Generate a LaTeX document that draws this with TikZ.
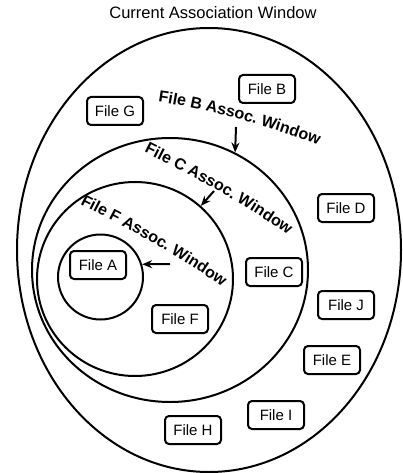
\documentclass[tikz,border=0pt]{standalone}
\usepackage{fontspec}
\setmainfont{Liberation Sans}
\usetikzlibrary{arrows.meta,shapes.geometric,decorations.text}

\newcommand{\boxfont}{\fontsize{15}{18}\selectfont}
\newcommand{\arcfont}{\fontsize{16}{19}\selectfont\bfseries}

\tikzset{
  filebox/.style={draw, line width=2pt, rounded corners=4pt, minimum width=56pt,
    minimum height=28pt, inner sep=0pt, font=\boxfont},
  window/.style={draw, ellipse, line width=2pt, inner sep=0pt},
  pointer/.style={-{Stealth[length=10pt,width=8pt]}, line width=2pt},
  arclabel/.style={decorate, decoration={text along path, text align=left,
    text={|\arcfont|#1}}}
}

\begin{document}
\begin{tikzpicture}[x=1pt, y=-1pt]
    \useasboundingbox (0,0) rectangle (403,473);
    \node[font=\fontsize{16.5}{19}\selectfont] (title) at (213,13) {Current Association Window};

    % nested windows
    \node[window, minimum width=384pt, minimum height=444pt] (cur) at (209,250) {};
    \node[window, minimum width=276pt, minimum height=264pt] (winB) at (170,270) {};
    \node[window, minimum width=196pt, minimum height=194pt] (winC) at (135,279) {};
    \node[window, circle, minimum size=85pt] (winF) at (100.5,277) {};

    % files
    \node[filebox] (fileB) at (267,89) {File B};
    \node[filebox] (fileG) at (115,111) {File G};
    \node[filebox] (fileD) at (346,208) {File D};
    \node[filebox] (fileA) at (98,265) {File A};
    \node[filebox] (fileC) at (274,272) {File C};
    \node[filebox] (fileJ) at (346,305) {File J};
    \node[filebox] (fileF) at (180,319) {File F};
    \node[filebox] (fileE) at (332,360) {File E};
    \node[filebox] (fileI) at (276,415) {File I};
    \node[filebox] (fileH) at (193,430) {File H};

    % window labels
    \path[arclabel={File B Assoc. Window}] (158,102) .. controls (200,108) and (265,124) .. (320,146) -- (350,159);
    \path[arclabel={File C Assoc. Window}] (144,152) .. controls (180,170) and (245,203) .. (296,241) -- (320,260);
    \path[arclabel={File F Assoc. Window}] (80,204) .. controls (115,222) and (180,255) .. (229,292) -- (250,308);

    \coordinate (tailB) at (236,127);
    \coordinate (tailC) at (214,191);
    \coordinate (tailF) at (170,264);
    \draw[pointer] (tailB) -- (winB.61);
    \draw[pointer] (tailC) -- (winC.48);
    \draw[pointer] (tailF) -- (winF.17);
\end{tikzpicture}
\end{document}
